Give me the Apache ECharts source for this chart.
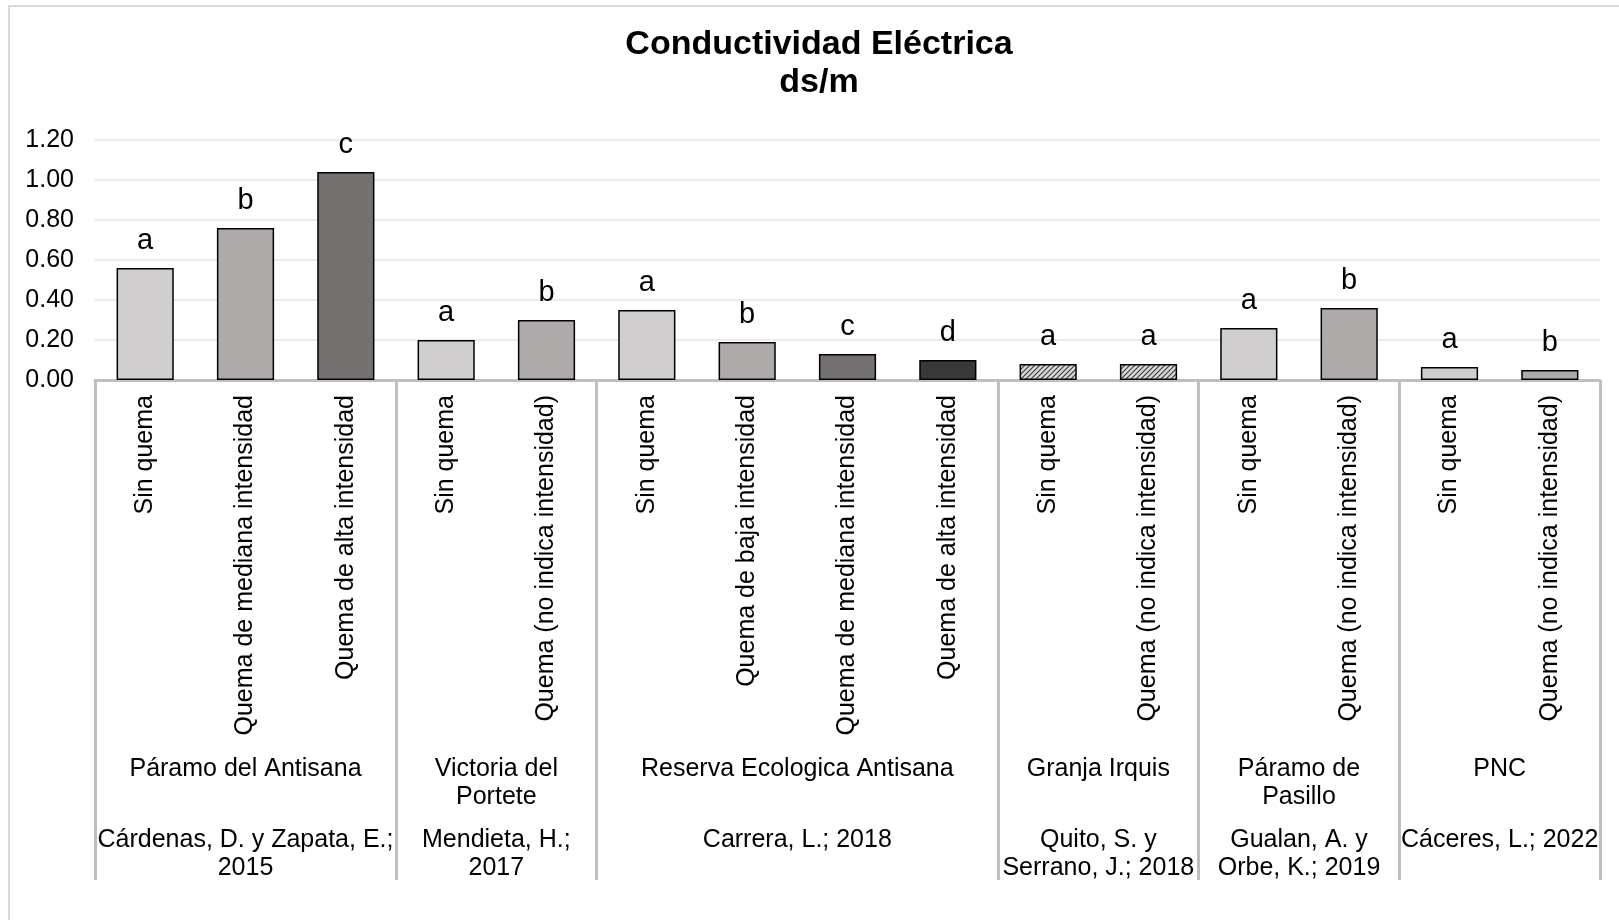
<!DOCTYPE html>
<html>
  <head>
    <meta charset="utf-8" />
    <title>Conductividad Eléctrica</title>
    <script src="https://cdn.jsdelivr.net/npm/echarts@6/dist/echarts.min.js"></script>
    <style>
      * {
        margin: 0;
        padding: 0;
      }
      html,
      body {
        width: 100%;
        height: 100%;
        background: #fff;
        overflow: hidden;
      }
      #frame {
        position: absolute;
        left: 8px;
        top: 5px;
        right: 0;
        bottom: 0;
        border-left: 2px solid #d9d9d9;
        border-top: 2px solid #d9d9d9;
      }
      #container {
        position: absolute;
        left: 0;
        top: 0;
        width: 1619px;
        height: 920px;
      }
    </style>
  </head>
  <body>
    <div id="frame"></div>
    <div id="container"></div>
    <script>
      // datos
      const categories = [
        "Sin quema", "Quema de mediana intensidad", "Quema de alta intensidad",
        "Sin quema", "Quema (no indica intensidad)",
        "Sin quema", "Quema de baja intensidad", "Quema de mediana intensidad", "Quema de alta intensidad",
        "Sin quema", "Quema (no indica intensidad)",
        "Sin quema", "Quema (no indica intensidad)",
        "Sin quema", "Quema (no indica intensidad)"
      ];
      const values = [0.56, 0.76, 1.04, 0.2, 0.3, 0.35, 0.19, 0.13, 0.1, 0.08, 0.08, 0.26, 0.36, 0.065, 0.05];
      const letters = ["a", "b", "c", "a", "b", "a", "b", "c", "d", "a", "a", "a", "b", "a", "b"];
      const locations = [
        "Páramo del Antisana", "Victoria del\nPortete", "Reserva Ecologica Antisana",
        "Granja Irquis", "Páramo de\nPasillo", "PNC"
      ];
      const authors = [
        "Cárdenas, D. y Zapata, E.;\n2015", "Mendieta, H.;\n2017", "Carrera, L.; 2018",
        "Quito, S. y\nSerrano, J.; 2018", "Gualan, A. y\nOrbe, K.; 2019", "Cáceres, L.; 2022"
      ];
      const groupSizes = [3, 2, 4, 2, 2, 2];
      const yTicks = [0, 0.2, 0.4, 0.6, 0.8, 1.0, 1.2];

      // estilos
      const FONT = "'Liberation Sans', Arial, sans-serif";
      const hatch = document.createElement("canvas");
      hatch.width = 5;
      hatch.height = 5;
      const hc = hatch.getContext("2d");
      hc.fillStyle = "#d9d7d7";
      hc.fillRect(0, 0, 5, 5);
      hc.strokeStyle = "#3a3a3a";
      hc.lineWidth = 1.1;
      [[-1, 6, 6, -1], [4, 6, 6, 4], [-1, 1, 1, -1]].forEach((l) => {
        hc.beginPath();
        hc.moveTo(l[0], l[1]);
        hc.lineTo(l[2], l[3]);
        hc.stroke();
      });
      const hatchFill = { image: hatch, repeat: "repeat" };
      const barFills = [
        "#d0cece", "#aeaaaa", "#757070",
        "#d0cece", "#aeaaaa",
        "#d0cece", "#aeaaaa", "#757070", "#3b3838",
        hatchFill, hatchFill,
        "#d0cece", "#aeaaaa",
        "#d0cece", "#aeaaaa"
      ];

      // limites y centros de grupos
      const bounds = [0];
      groupSizes.forEach((s) => bounds.push(bounds[bounds.length - 1] + s));
      const centers = groupSizes.map((s, i) => bounds[i] + s / 2);

      const myChart = echarts.init(document.getElementById("container"));
      myChart.setOption({
        animation: false,
        title: {
          text: "Conductividad Eléctrica\nds/m",
          left: 819,
          textAlign: "center",
          top: 26,
          padding: 0,
          textStyle: {
            fontFamily: FONT,
            fontWeight: "bold",
            fontSize: 34,
            lineHeight: 38,
            color: "#000"
          }
        },
        grid: { left: 95, right: 19, top: 140, bottom: 540 },
        xAxis: [
          {
            type: "category",
            data: categories,
            axisLine: { lineStyle: { color: "#bfbfbf", width: 3 } },
            axisTick: { show: false },
            axisLabel: {
              interval: 0,
              rotate: 90,
              margin: 15,
              fontFamily: FONT,
              fontSize: 25,
              color: "#000"
            }
          },
          {
            type: "value",
            min: 0,
            max: categories.length,
            position: "bottom",
            axisLine: { show: false },
            splitLine: { show: false },
            axisTick: {
              show: true,
              customValues: bounds,
              length: 500,
              lineStyle: { color: "#bfbfbf", width: 3 }
            },
            axisLabel: {
              customValues: centers,
              margin: 375,
              fontFamily: FONT,
              fontSize: 25,
              lineHeight: 28,
              color: "#000",
              formatter: (v) => locations[centers.indexOf(v)]
            }
          },
          {
            type: "value",
            min: 0,
            max: categories.length,
            position: "bottom",
            axisLine: { show: false },
            splitLine: { show: false },
            axisTick: { show: false },
            axisLabel: {
              customValues: centers,
              margin: 446,
              fontFamily: FONT,
              fontSize: 25,
              lineHeight: 28,
              color: "#000",
              formatter: (v) => authors[centers.indexOf(v)]
            }
          }
        ],
        yAxis: {
          type: "value",
          min: 0,
          max: 1.2,
          interval: 0.2,
          axisLine: { show: false },
          axisTick: { show: false },
          splitLine: { lineStyle: { color: "#ebebeb", width: 2 } },
          axisLabel: {
            margin: 21,
            fontFamily: FONT,
            fontSize: 25,
            color: "#000",
            customValues: yTicks,
            formatter: (v) => v.toFixed(2)
          }
        },
        series: [
          {
            type: "bar",
            xAxisIndex: 0,
            barWidth: "57%",
            data: values.map((v, i) => ({
              value: v,
              itemStyle: { color: barFills[i] }
            })),
            itemStyle: { borderColor: "#000", borderWidth: 1.5 },
            label: {
              show: true,
              position: "top",
              distance: 13,
              fontFamily: FONT,
              fontSize: 29,
              color: "#000",
              formatter: (p) => letters[p.dataIndex]
            }
          }
        ]
      });
    </script>
  </body>
</html>
